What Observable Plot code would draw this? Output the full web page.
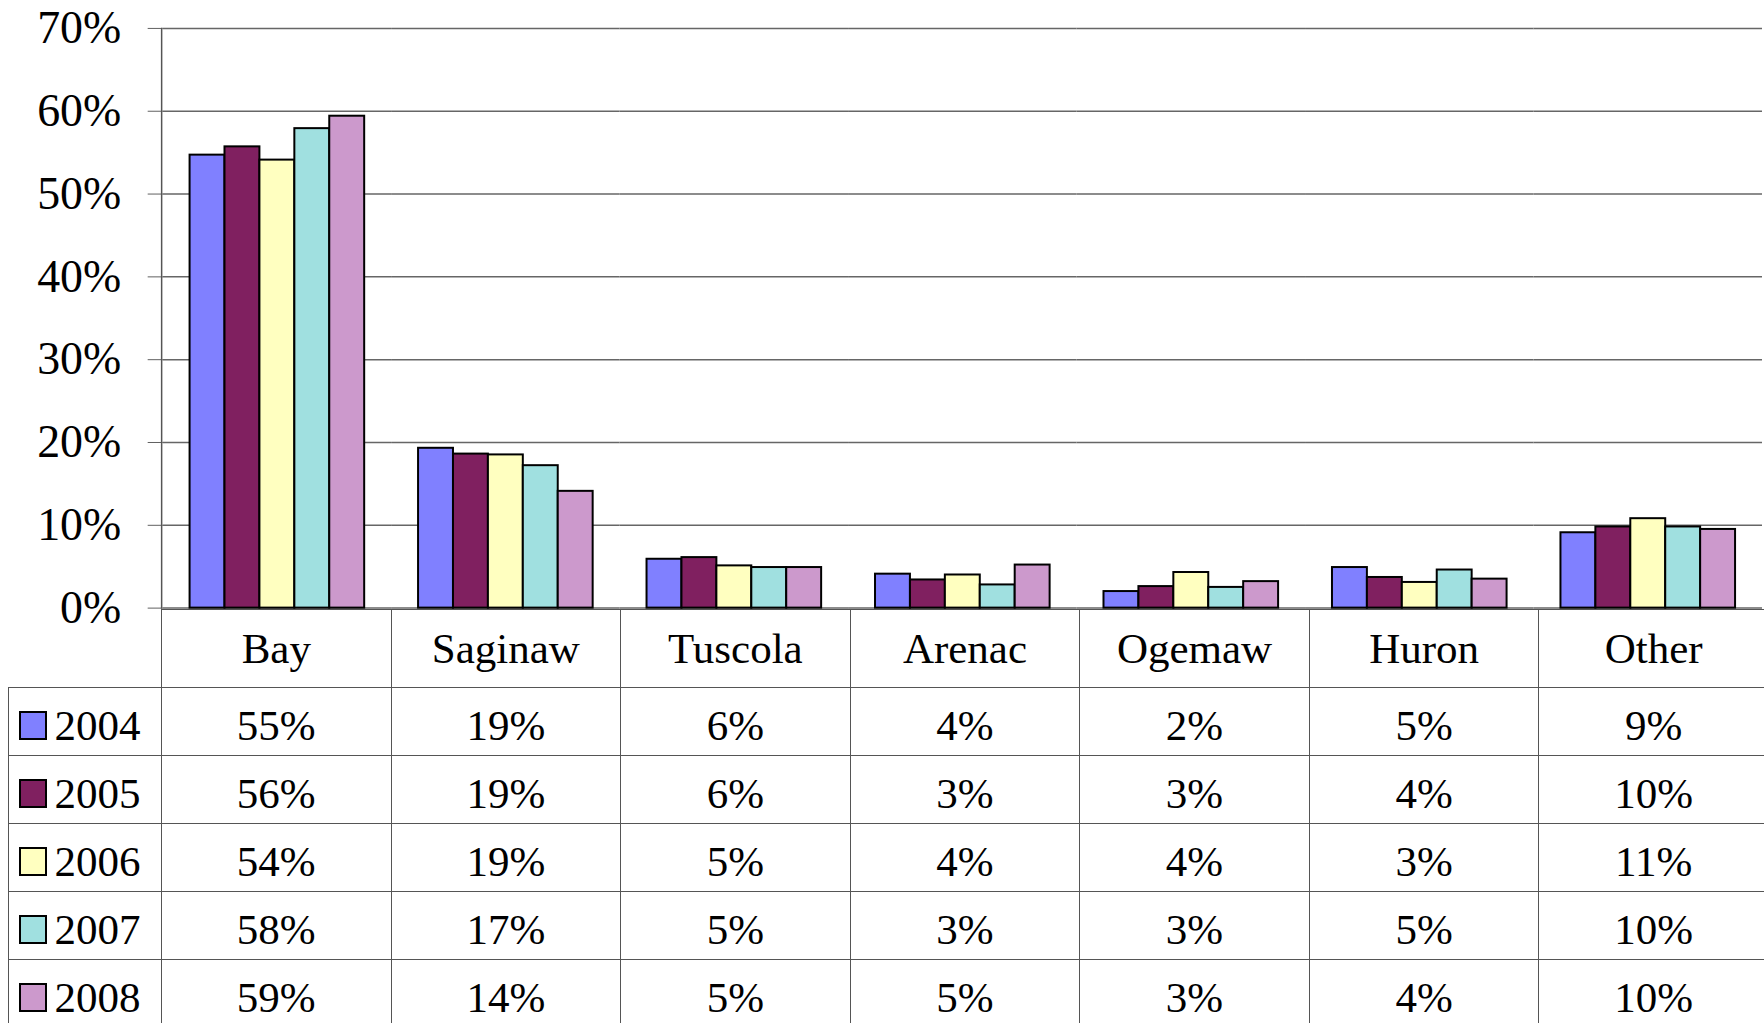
<!DOCTYPE html>
<html>
<head>
<meta charset="utf-8">
<script src="https://cdn.jsdelivr.net/npm/d3@7"></script>
<script src="https://cdn.jsdelivr.net/npm/@observablehq/plot@0.6"></script>
<style>
html, body { margin: 0; padding: 0; background: #fff; width: 1764px; height: 1023px; overflow: hidden; }
#wrap { position: relative; width: 1764px; height: 1023px; font-family: "Liberation Serif", "Times New Roman", serif; color: #000; }
#chart { position: absolute; left: 0; top: 0; }
#tbl { position: absolute; left: 7.5px; top: 609px; border-collapse: collapse; table-layout: fixed; width: 1760.5px; font-size: 43px; }
#tbl td { box-sizing: border-box; border: 1.5px solid #555; padding: 0; text-align: center; vertical-align: middle; line-height: 1; white-space: nowrap; overflow: hidden; }
#tbl tr.cat td { height: 78px; }
#tbl tr.val td { height: 68px; padding-top: 8px; }
#tbl td.corner { border-left: none; border-top: none; }
#tbl td.leg { text-align: left; padding-left: 10px; }
#tbl .sw { display: inline-block; width: 24px; height: 25px; border: 2px solid #000; margin-right: 8px; vertical-align: baseline; }
</style>
</head>
<body>
<div id="wrap"><div id="chart"></div></div>
<script>
const categories = ["Bay", "Saginaw", "Tuscola", "Arenac", "Ogemaw", "Huron", "Other"];
const years = ["2004", "2005", "2006", "2007", "2008"];
const colors = ["#8080FF", "#802060", "#FFFFC0", "#A0E0E0", "#CC99CC"];

// bar heights (percent)
const v2004 = [54.7, 19.3, 5.9, 4.1, 2.0, 4.9, 9.1];
const v2005 = [55.7, 18.6, 6.1, 3.4, 2.6, 3.7, 9.8];
const v2006 = [54.1, 18.5, 5.1, 4.0, 4.3, 3.1, 10.8];
const v2007 = [57.9, 17.2, 4.9, 2.8, 2.5, 4.6, 9.8];
const v2008 = [59.4, 14.1, 4.9, 5.2, 3.2, 3.5, 9.5];

// data-table labels
const t2004 = ["55%", "19%", "6%", "4%", "2%", "5%", "9%"];
const t2005 = ["56%", "19%", "6%", "3%", "3%", "4%", "10%"];
const t2006 = ["54%", "19%", "5%", "4%", "4%", "3%", "11%"];
const t2007 = ["58%", "17%", "5%", "3%", "3%", "5%", "10%"];
const t2008 = ["59%", "14%", "5%", "5%", "3%", "4%", "10%"];

const yTicks = [0, 0.1, 0.2, 0.3, 0.4, 0.5, 0.6, 0.7];

const series = [v2004, v2005, v2006, v2007, v2008];
const tableLabels = [t2004, t2005, t2006, t2007, t2008];

const data = [];
years.forEach((yr, j) => categories.forEach((c, i) => data.push({county: c, year: yr, value: series[j][i] / 100})));

const chart = Plot.plot({
  width: 1768,
  height: 612,
  marginLeft: 161,
  marginRight: 0,
  marginTop: 28,
  marginBottom: 3,
  style: {fontFamily: "'Liberation Serif', 'Times New Roman', serif", fontSize: "46px", background: "white", overflow: "visible", color: "black"},
  fx: {domain: categories, padding: 0, axis: null, label: null},
  x: {domain: years, paddingInner: 0, paddingOuter: 0.75, axis: null, label: null},
  y: {domain: [0, 0.7], axis: null, label: null},
  color: {domain: years, range: colors},
  marks: [
    Plot.gridY(yTicks, {stroke: "#666", strokeOpacity: 1, strokeWidth: 1.5}),
    Plot.barY(data, {fx: "county", x: "year", y: "value", fill: "year", stroke: "black", strokeWidth: 2}),
    Plot.axisY(yTicks, {tickSize: 15, tickPadding: 27, tickFormat: d3.format(".0%"), stroke: "#606060", fill: "black", label: null, fontSize: 46}),
    Plot.frame({anchor: "left", facet: "super", stroke: "#555", strokeWidth: 1.5, dx: -1.5})
  ]
});
document.getElementById("chart").appendChild(chart);

// data table below the plot
const tbl = d3.select("#wrap").append("table").attr("id", "tbl");
const cg = tbl.append("colgroup");
cg.append("col").style("width", "153.5px");
categories.forEach(() => cg.append("col").style("width", (1607 / 7) + "px"));
const hr = tbl.append("tr").attr("class", "cat");
hr.append("td").attr("class", "corner");
categories.forEach(c => hr.append("td").text(c));
years.forEach((yr, j) => {
  const tr = tbl.append("tr").attr("class", "val");
  const lg = tr.append("td").attr("class", "leg");
  lg.append("span").attr("class", "sw").style("background", colors[j]);
  lg.append("span").text(yr);
  tableLabels[j].forEach(l => tr.append("td").text(l));
});
</script>
</body>
</html>
